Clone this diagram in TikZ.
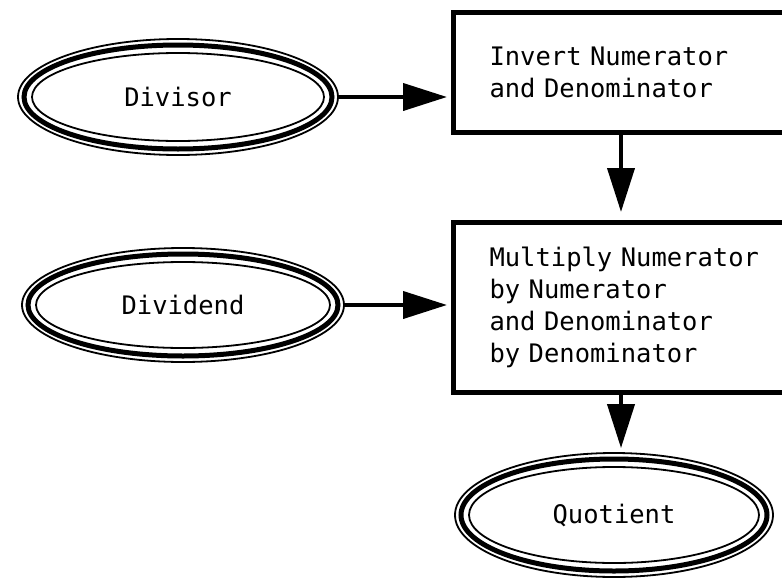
\documentclass[tikz,border=0pt]{standalone}
\usepackage{fontspec}
\newfontfamily\ttyfont{DejaVu Sans Mono}
\newcommand\diagfont{\ttyfont\fontsize{25.5}{32}\selectfont}
\usetikzlibrary{arrows.meta,shapes.geometric}
\begin{document}
\begin{tikzpicture}[x=1pt,y=-1pt,
  txt/.style={font=\diagfont},
  term/.style={ellipse, draw, line width=1.8pt, inner sep=0pt, txt},
  ring/.style={line width=5pt},
  inring/.style={line width=1.8pt},
  proc/.style={draw, line width=5pt, text width=310pt, inner xsep=36pt, align=left, anchor=north west, txt},
  flow/.style={line width=4pt, -{Triangle[length=44pt,width=27pt]}}
]
\useasboundingbox (0,0) rectangle (782,581);
\clip (0,0) rectangle (782,581);

% terminals
\node[term, minimum width=320pt, minimum height=116pt] (div) at (178,97) {Divisor};
\draw[ring] (div.center) ellipse [x radius=154, y radius=52];
\draw[inring] (div.center) ellipse [x radius=146, y radius=44];

\node[term, minimum width=322pt, minimum height=114pt] (dvd) at (183,305) {Dividend};
\draw[ring] (dvd.center) ellipse [x radius=155, y radius=51];
\draw[inring] (dvd.center) ellipse [x radius=147, y radius=43];

\node[term, minimum width=318pt, minimum height=124pt] (quo) at (614,515) {Quotient};
\draw[ring] (quo.center) ellipse [x radius=153, y radius=56];
\draw[inring] (quo.center) ellipse [x radius=145, y radius=48];

% processes
\node[proc, minimum height=120pt] (inv) at (451,10) {Invert Numerator\\and Denominator};
\node[proc, minimum height=170pt] (mul) at (451,220) {Multiply Numerator\\by Numerator\\and Denominator\\by Denominator};

% connectors
\coordinate (ax) at (621,0);
\draw[flow, shorten >=4pt] (div.east) -- (div.east -| inv.west);
\draw[flow, shorten >=4pt] (dvd.east) -- (dvd.east -| mul.west);
\draw[flow, shorten >=8pt] (inv.south -| ax) -- (mul.north -| ax);
\draw[flow, shorten >=4pt] (mul.south -| ax) -- (quo.north -| ax);
\end{tikzpicture}
\end{document}
